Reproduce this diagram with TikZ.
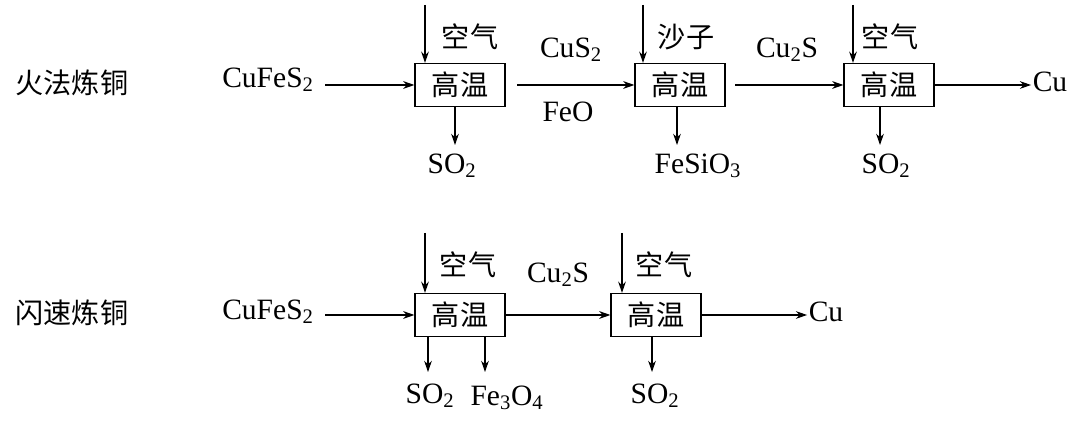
\documentclass[tikz,border=0pt]{standalone}
\usepackage{fontspec}
\setmainfont{Liberation Serif}
\newfontfamily\cjk{Noto Sans CJK SC}
\usetikzlibrary{arrows.meta}
\newcommand{\sbs}[1]{\textsubscript{#1}}
\begin{document}
\begin{tikzpicture}[x=0.025cm,y=-0.025cm,
  box/.style={draw,line width=0.8pt,minimum width=2.25cm,minimum height=1.08cm,inner sep=0pt,font=\cjk\fontsize{20}{22}\selectfont},
  txt/.style={inner sep=1pt,font=\fontsize{21}{23}\selectfont},
  cn/.style={inner sep=1pt,font=\cjk\fontsize{20}{22}\selectfont},
  arr/.style={-{Stealth[length=8pt,width=5.5pt]},line width=0.8pt}]
\useasboundingbox (0,0) rectangle (1080,425);
% top row
\node[cn] (t0) at (72,83) {火法炼铜};
\node[txt] (tf) at (268,80) {CuFeS\sbs{2}};
\node[box] (b1) at (460,85) {高温};
\node[box] (b2) at (680,85) {高温};
\node[box] (b3) at (889,85) {高温};
\coordinate (ta) at (325,85);
\coordinate (i1) at (425,5); \coordinate (i2) at (643,5); \coordinate (i3) at (853,5);
\node[cn] at (470,37) {空气};
\node[cn] at (686,37) {沙子};
\node[cn] at (890,37) {空气};
\draw[arr] (ta) -- (b1.west);
\draw[arr] (i1) -- (i1|-b1.north);
\draw[arr] (i2) -- (i2|-b2.north);
\draw[arr] (i3) -- (i3|-b3.north);
\coordinate (a1) at (517,85);
\draw[arr] (a1) -- (b2.west);
\node[txt] at (571,50) {CuS\sbs{2}};
\node[txt] at (568,112) {FeO};
\coordinate (a2) at (735,85);
\draw[arr] (a2) -- (b3.west);
\node[txt] at (787,50) {Cu\sbs{2}S};
\node[txt] (o1) at (452,166) {SO\sbs{2}};
\node[txt] (o2) at (698,166) {FeSiO\sbs{3}};
\node[txt] (o3) at (886,166) {SO\sbs{2}};
\draw[arr] (455,107) -- (455,145);
\draw[arr] (677,107) -- (677,145);
\draw[arr] (880,107) -- (880,145);
\node[txt] (cu1) at (1050,82) {Cu};
\draw[arr] (b3.east) -- (cu1.west|-b3.east);
% bottom row
\node[cn] (u0) at (72,313) {闪速炼铜};
\node[txt] (uf) at (268,312) {CuFeS\sbs{2}};
\node[box] (c1) at (460,315) {高温};
\node[box] (c2) at (656,315) {高温};
\coordinate (ua) at (325,315);
\draw[arr] (ua) -- (c1.west);
\coordinate (j1) at (425,233); \coordinate (j2) at (622,233);
\draw[arr] (j1) -- (j1|-c1.north);
\draw[arr] (j2) -- (j2|-c2.north);
\node[cn] at (468,265) {空气};
\node[cn] at (664,265) {空气};
\coordinate (d1) at (505,315);
\draw[arr] (d1) -- (c2.west);
\node[txt] at (558,275) {Cu\sbs{2}S};
\node[txt] (cu2) at (826,312) {Cu};
\draw[arr] (c2.east) -- (cu2.west|-c2.east);
\draw[arr] (428,337) -- (428,372);
\draw[arr] (485,337) -- (485,372);
\draw[arr] (652,337) -- (652,372);
\node[txt] at (430,396) {SO\sbs{2}};
\node[txt] at (507,398) {Fe\sbs{3}O\sbs{4}};
\node[txt] at (655,396) {SO\sbs{2}};
\end{tikzpicture}
\end{document}
